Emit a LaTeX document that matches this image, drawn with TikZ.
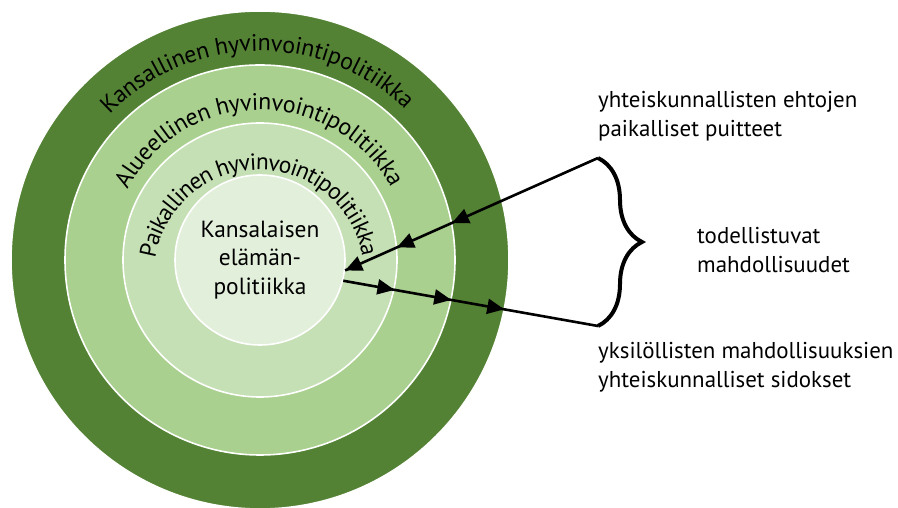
\documentclass[tikz,border=0pt]{standalone}
\usepackage{fontspec}
\setmainfont{PT Sans}
\usetikzlibrary{calc,arrows.meta,decorations.text,decorations.pathreplacing,decorations.markings}
\definecolor{ringA}{HTML}{548235}
\definecolor{ringB}{HTML}{A9D08E}
\definecolor{ringC}{HTML}{C5E0B4}
\definecolor{ringD}{HTML}{E2EFDA}
\def\arctext[#1](#2)(#3:#4:#5)#6{\path[font=#1,decorate,decoration={text effects along path,text={#6},text effects/.cd,text along path,fit text to path}] ($(#2)+({#5*cos(#3)},{#5*sin(#3)})$) arc (#3:#4:#5);}
\tikzset{
	lbl/.style={anchor=west, align=left, inner sep=0pt, font=\fontsize{23}{29}\selectfont},
	ring/.style={draw=white, line width=1.6bp},
	>={Triangle[length=17bp,width=15bp]}
}

\begin{document}
\begin{tikzpicture}[x=1bp, y=1bp]
			%%%%% START %%%%%
			\useasboundingbox (0,0) rectangle (898,508);
			\coordinate (C) at (260,248);
			\coordinate (Cp) at (259,233);
			
			\draw[ring, fill=ringA] (C) circle (249);
			\draw[ring, fill=ringB] (C) circle (195);
			\draw[ring, fill=ringC] (C) circle (137);
			\node[circle, ring, fill=ringD, minimum size=170bp, inner sep=0pt, align=center, font=\fontsize{23.5}{29}\selectfont] (inner) at (C) {Kansalaisen\\elämän-\\politiikka};
			
			\arctext[\fontsize{24}{28}\selectfont](C)(136:46:209){Kansallinen hyvinvointipolitiikka}
			\arctext[\fontsize{24}{28}\selectfont](C)(152:29:150){Alueellinen hyvinvointipolitiikka}
			\arctext[\fontsize{23.5}{28}\selectfont](Cp)(171:10:105){Paikallinen hyvinvointipolitiikka}
			
			%%%%% brace and arrows %%%%%
			\coordinate (btop) at (598,350);
			\coordinate (bbot) at (598,182);
			\draw[line width=4bp, decorate, decoration={brace, amplitude=44bp}] (btop) -- (bbot);
			
			\draw[line width=2.6bp, postaction={decorate, decoration={markings,
				mark=at position 0.578 with {\arrow{>}},
				mark=at position 0.795 with {\arrow{>}},
				mark=at position 1 with {\arrow{>}}}}] (btop) -- (inner.-7);
			\draw[line width=2.6bp, postaction={decorate, decoration={markings,
				mark=at position 0.201 with {\arrow{>}},
				mark=at position 0.424 with {\arrow{>}},
				mark=at position 0.632 with {\arrow{>}}}}] (inner.-14) -- (bbot);
			
			\node[lbl] (ehdot) at (598,392) {yhteiskunnallisten ehtojen\\paikalliset puitteet};
			\node[lbl] (mahd) at (697,258) {todellistuvat\\mahdollisuudet};
			\node[lbl] (sidokset) at (598,141) {yksilöllisten mahdollisuuksien\\yhteiskunnalliset sidokset};
			%%%%% END %%%%%
\end{tikzpicture}
\end{document}
